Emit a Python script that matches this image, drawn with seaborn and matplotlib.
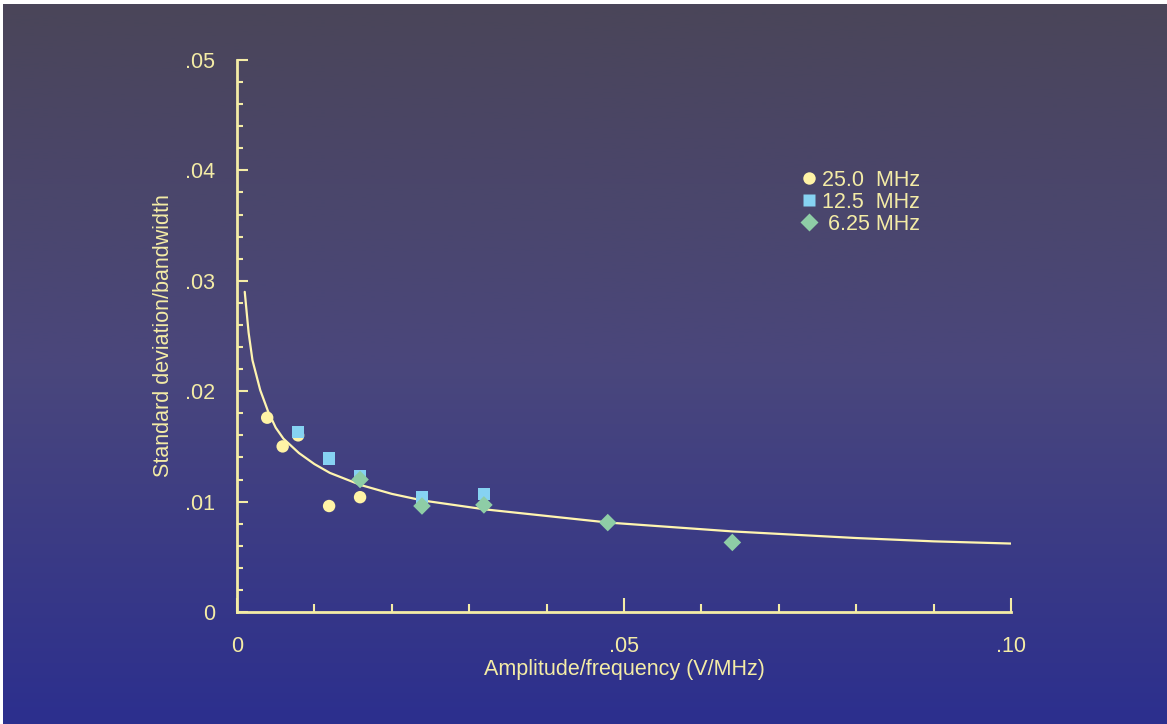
import numpy as np
import pandas as pd
import matplotlib
matplotlib.use("Agg")
import matplotlib.pyplot as plt
import seaborn as sns
from matplotlib.colors import LinearSegmentedColormap

# Data
x_25 = [0.0039, 0.0059, 0.0079, 0.0119, 0.0159]
y_25 = [0.0176, 0.0150, 0.0160, 0.0096, 0.0104]
x_125 = [0.0079, 0.0119, 0.0159, 0.0239, 0.0319]
y_125 = [0.0163, 0.0139, 0.0123, 0.0104, 0.0107]
x_625 = [0.0159, 0.0239, 0.0319, 0.0479, 0.0640]
y_625 = [0.0120, 0.0096, 0.0097, 0.0081, 0.0063]
series_labels = ["25.0  MHz", "12.5  MHz", " 6.25 MHz"]

# fitted curve, read point by point
curve_x = [0.001, 0.0015, 0.002, 0.003, 0.004, 0.005, 0.006, 0.008, 0.010, 0.012,
           0.016, 0.020, 0.024, 0.032, 0.040, 0.048, 0.056, 0.064, 0.072, 0.080,
           0.090, 0.100]
curve_y = [0.0290, 0.0253, 0.0228, 0.0201, 0.0182, 0.0167, 0.0157, 0.0144, 0.0134, 0.0126,
           0.0115, 0.0107, 0.0101, 0.0093, 0.0087, 0.0081, 0.0077, 0.0073, 0.0070, 0.0067,
           0.0064, 0.0062]

x_ticks = [0, 0.05, 0.10]
x_ticklabels = ["0", ".05", ".10"]
y_ticks = [0, 0.01, 0.02, 0.03, 0.04, 0.05]
y_ticklabels = ["0", ".01", ".02", ".03", ".04", ".05"]

df = pd.DataFrame({
    "x": x_25 + x_125 + x_625,
    "y": y_25 + y_125 + y_625,
    "series": [series_labels[0]] * len(x_25) + [series_labels[1]] * len(x_125)
              + [series_labels[2]] * len(x_625),
})

sns.set_style("white")
plt.rcParams["font.family"] = ["Liberation Sans", "DejaVu Sans"]

pale = "#f4eca6"
fs = 15.5
palette = {series_labels[0]: "#fff3a6", series_labels[1]: "#86d2f2", series_labels[2]: "#8ecda6"}
markers = {series_labels[0]: "o", series_labels[1]: "s", series_labels[2]: "D"}

fig = plt.figure(figsize=(11.67, 7.24), dpi=100)
fig.patch.set_facecolor("white")

# gradient background
bg = fig.add_axes([3 / 1167, 0, 1 - 3 / 1167, 1 - 4 / 724])
grad = LinearSegmentedColormap.from_list("bg", ["#4a4559", "#4a477c", "#2c2f8e"])
bg.imshow(np.linspace(0, 1, 256).reshape(-1, 1), aspect="auto", cmap=grad,
          extent=[0, 1, 0, 1])
bg.axis("off")

ax = fig.add_axes([237 / 1167, 1 - 612 / 724, 774 / 1167, 552 / 724])
ax.patch.set_alpha(0)

ax.plot(curve_x, curve_y, color="#fff5b0", lw=1.6, zorder=2)
sns.scatterplot(data=df, x="x", y="y", hue="series", style="series",
                palette=palette, markers=markers, s=80, edgecolor="none",
                ax=ax, zorder=3)

ax.set_xlim(0, 0.10)
ax.set_ylim(0, 0.05)
ax.set_xticks(x_ticks)
ax.set_xticklabels(x_ticklabels)
ax.set_yticks(y_ticks)
ax.set_yticklabels(y_ticklabels)
ax.set_xticks(np.arange(0, 0.1001, 0.01), minor=True)
ax.set_yticks(np.arange(0, 0.0501, 0.002), minor=True)

for s in ["top", "right"]:
    ax.spines[s].set_visible(False)
for s in ["left", "bottom"]:
    ax.spines[s].set_color(pale)
    ax.spines[s].set_linewidth(2)

ax.tick_params(which="both", direction="in", width=1.5, color=pale,
               labelcolor=pale, labelsize=fs, bottom=True, left=True)
ax.tick_params(axis="x", which="major", length=10, pad=17)
ax.tick_params(axis="x", which="minor", length=6)
ax.tick_params(axis="y", which="major", length=8, pad=16)
ax.tick_params(axis="y", which="minor", length=4.5)

ax.set_xlabel("Amplitude/frequency (V/MHz)", color=pale, fontsize=fs, labelpad=2)
ax.set_ylabel("Standard deviation/bandwidth", color=pale, fontsize=fs, labelpad=8)

leg = ax.legend(loc="upper left", bbox_to_anchor=(0.727, 0.801), frameon=False,
                fontsize=fs, handletextpad=0.15, handlelength=0.9, labelspacing=0.05,
                borderaxespad=0, borderpad=0, markerscale=1.0)
for t in leg.get_texts():
    t.set_color(pale)

fig.savefig("out.png", dpi=100)
